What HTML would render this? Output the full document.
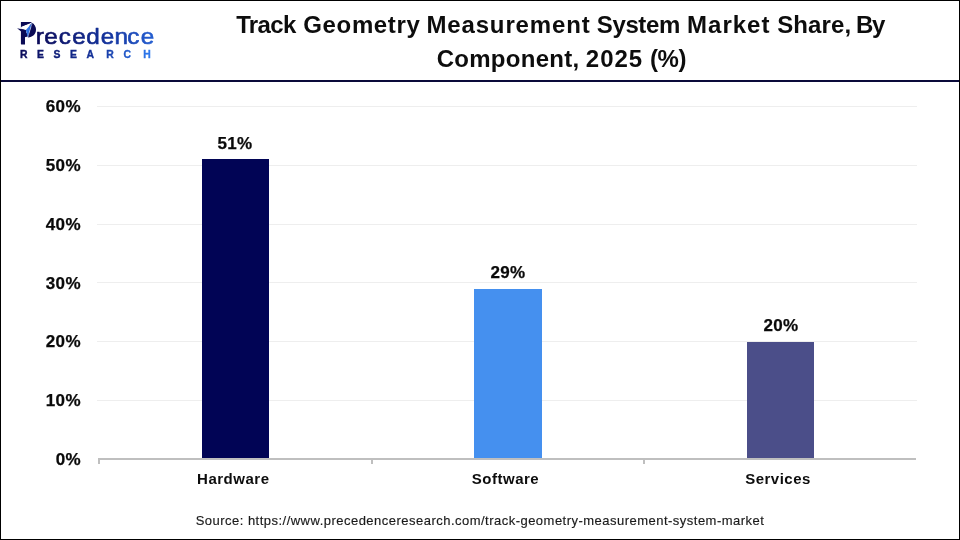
<!DOCTYPE html>
<html lang="en">
<head>
<meta charset="utf-8">
<title>Track Geometry Measurement System Market Share, By Component, 2025 (%)</title>
<style>
html,body{margin:0;padding:0;background:#fff;}
body{width:960px;height:540px;overflow:hidden;position:relative;font-family:"Liberation Sans",sans-serif;color:#111;}
#frame{position:absolute;left:0;top:0;width:958px;height:538px;border:1px solid #000;box-sizing:content-box;}
#hline{position:absolute;left:1px;top:80px;width:958px;height:2px;background:#0a0a3a;}
.title{position:absolute;left:0;width:960px;height:33px;font-weight:bold;font-size:24px;line-height:33px;color:#0d0d0d;white-space:nowrap;}
.title .w{position:absolute;top:0;display:block;}
.grid{position:absolute;left:97px;width:820px;height:1px;background:#eeeeee;}
.ylab{position:absolute;left:20px;width:61px;text-align:right;font-weight:bold;font-size:17px;line-height:20px;color:#0a0a0a;letter-spacing:0.4px;-webkit-text-stroke:0.25px #0a0a0a;}
.bar{position:absolute;}
.val{position:absolute;width:100px;text-align:center;font-weight:bold;font-size:17px;line-height:20px;color:#0a0a0a;letter-spacing:0.4px;-webkit-text-stroke:0.25px #0a0a0a;}
.cat{position:absolute;width:200px;text-align:center;font-weight:bold;font-size:15px;line-height:18px;color:#0d0d0d;letter-spacing:0.5px;}
#axis{position:absolute;left:98px;top:458px;width:818px;height:2px;background:#bfbfbf;}
.tick{position:absolute;top:458px;width:2px;height:6px;background:#bfbfbf;}
#source{position:absolute;left:0;top:513px;width:960px;text-align:center;font-size:13px;line-height:16px;color:#1a1a1a;letter-spacing:0.48px;-webkit-text-stroke:0.15px #1a1a1a;}
#logo{position:absolute;left:0;top:0;}
</style>
</head>
<body>
<div id="frame"></div>
<div id="hline"></div>

<svg id="logo" width="170" height="70" viewBox="0 0 170 70">
  <defs>
    <linearGradient id="g1" x1="36" y1="0" x2="154" y2="0" gradientUnits="userSpaceOnUse">
      <stop offset="0" stop-color="#0b0b5a"/>
      <stop offset="0.55" stop-color="#14349e"/>
      <stop offset="1" stop-color="#2a6be0"/>
    </linearGradient>
    <linearGradient id="g2" x1="20" y1="0" x2="151" y2="0" gradientUnits="userSpaceOnUse">
      <stop offset="0" stop-color="#0b0b5a"/>
      <stop offset="0.6" stop-color="#14349e"/>
      <stop offset="1" stop-color="#2f7bf0"/>
    </linearGradient>
  </defs>
  <!-- P mark: real glyph underneath, paper-plane facets drawn over it -->
  <g transform="translate(19.3,0) scale(0.8,1)"><text id="lt0" x="0" y="44.4" font-family="Liberation Sans, sans-serif" font-weight="bold" font-size="31" fill="#0b0b55">P</text></g>
  <path d="M21.1 26.7 L31.7 22.6 L31.9 23.1 L25.9 29.9 L17.1 28.3 L21.1 29.2 Z" fill="#fff"/>
  <path d="M21.1 22 L30.7 22 L31.7 22.6 L21.1 26.7 Z" fill="#0b0b55"/>
  <path d="M17.1 28.3 L25.9 29.9 L27.2 36.6 L25 37.2 L25 44.4 L21.1 44.4 L21.1 31.6 Z" fill="#0b0b55"/>
  <path d="M32.1 22.9 C34.4 24 36 26.6 36 29.6 C36 34.2 32.6 37.4 27.9 37.6 Z" fill="#0b0b55"/>
  <path d="M31.9 23.1 L25.9 29.9 L27.6 37.2 Z" fill="#2f74e6"/>
  <path d="M31.9 23.1 L27.6 37.2 L28.9 30.5 Z" fill="#1d55c8"/>
  <path d="M32.2 23 L27.75 37.3" stroke="#dfe8fb" stroke-width="0.5" fill="none"/>
  <g transform="scale(1.08,1)"><text id="lt1" y="43.6" x="33.2 41 54.5 66.8 79.9 93.2 106 117.9 130.3" font-family="Liberation Sans, sans-serif" font-size="22.5" fill="url(#g1)" stroke="url(#g1)" stroke-width="0.6" stroke-linejoin="round">recedence</text></g>
  <text id="lt2" y="58" x="19.9 37.1 53.5 69.9 86.6 106.2 123.5 143.2" font-family="Liberation Sans, sans-serif" font-weight="bold" font-size="10.4" fill="url(#g2)" stroke="url(#g2)" stroke-width="0.35">RESEARCH</text>
</svg>

<div class="title" id="tl1" style="top:8px;"><span class="w" style="left:236.2px;letter-spacing:-0.67px">Track</span> <span class="w" style="left:303.3px;letter-spacing:0.64px">Geometry</span> <span class="w" style="left:426.4px;letter-spacing:0.86px">Measurement</span> <span class="w" style="left:596.8px;letter-spacing:-0.38px">System</span> <span class="w" style="left:687.1px;letter-spacing:1.0px">Market</span> <span class="w" style="left:777.2px;letter-spacing:0.1px">Share,</span> <span class="w" style="left:855.9px;letter-spacing:-1.2px">By</span></div>
<div class="title" id="tl2" style="top:42px;"><span class="w" style="left:436.7px;letter-spacing:0.28px">Component,</span> <span class="w" style="left:585.8px;letter-spacing:1.0px">2025</span> <span class="w" style="left:650.1px;letter-spacing:-0.52px">(%)</span></div>

<div class="grid" style="top:106px"></div>
<div class="grid" style="top:165px"></div>
<div class="grid" style="top:224px"></div>
<div class="grid" style="top:282px"></div>
<div class="grid" style="top:341px"></div>
<div class="grid" style="top:400px"></div>

<div class="ylab" style="top:97px">60%</div>
<div class="ylab" style="top:156px">50%</div>
<div class="ylab" style="top:215px">40%</div>
<div class="ylab" style="top:274px">30%</div>
<div class="ylab" style="top:332px">20%</div>
<div class="ylab" style="top:391px">10%</div>
<div class="ylab" style="top:450px">0%</div>

<div class="bar" style="left:202px;top:159px;width:67px;height:300px;background:#010455;"></div>
<div class="bar" style="left:474px;top:289px;width:68px;height:170px;background:#4590ef;"></div>
<div class="bar" style="left:747px;top:342px;width:67px;height:117px;background:#4b4e89;"></div>

<div class="val" style="left:185px;top:134px">51%</div>
<div class="val" style="left:458px;top:263px">29%</div>
<div class="val" style="left:731px;top:316px">20%</div>

<div id="axis"></div>
<div class="tick" style="left:98px"></div>
<div class="tick" style="left:371px"></div>
<div class="tick" style="left:643px"></div>

<div class="cat" style="left:133.3px;top:470px">Hardware</div>
<div class="cat" style="left:405.5px;top:470px">Software</div>
<div class="cat" style="left:678px;top:470px">Services</div>

<div id="source">Source: https://www.precedenceresearch.com/track-geometry-measurement-system-market</div>
</body>
</html>
